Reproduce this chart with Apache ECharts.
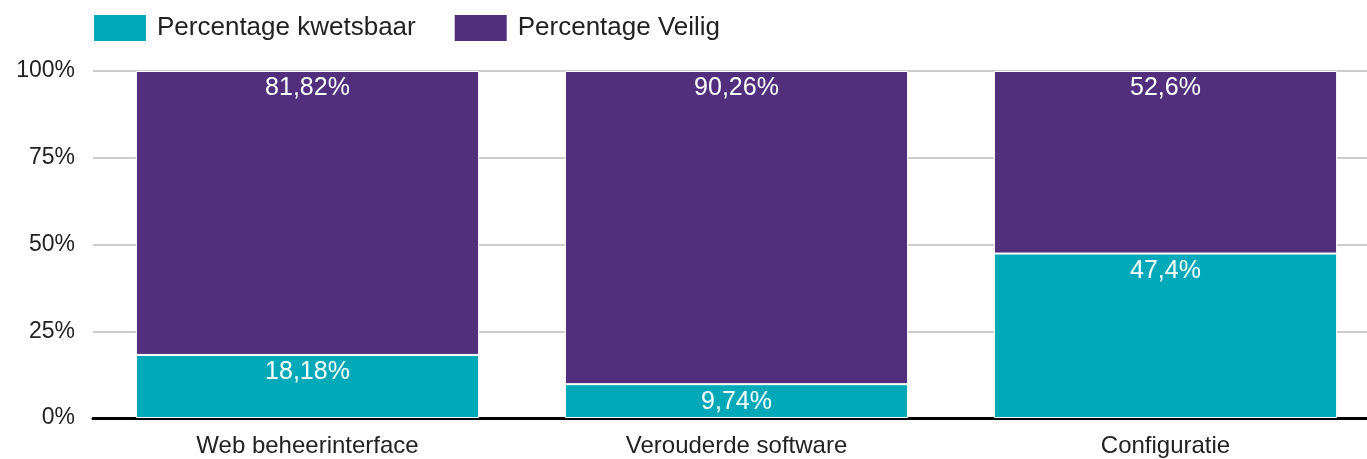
<!DOCTYPE html>
<html>
<head>
<meta charset="utf-8">
<script src="https://cdn.jsdelivr.net/npm/echarts@6/dist/echarts.min.js"></script>
<style>
  html, body { margin: 0; padding: 0; background: #fff; }
  #main { width: 1367px; height: 459px; }
</style>
</head>
<body>
<div id="main"></div>
<script>
// data
var categories = ['Web beheerinterface', 'Verouderde software', 'Configuratie'];
var kwetsbaar = [18.18, 9.74, 47.4];
var veilig = [81.82, 90.26, 52.6];
var yTicks = [0, 25, 50, 75, 100];

var chart = echarts.init(document.getElementById('main'));

function pct(p) {
  return String(p.value).replace('.', ',') + '%';
}

var labelStyle = {
  show: true,
  position: 'insideTop',
  distance: 5,
  color: '#fff',
  fontSize: 25,
  fontFamily: 'Liberation Sans',
  formatter: pct
};

chart.setOption({
  animation: false,
  textStyle: { fontFamily: 'Liberation Sans' },
  legend: {
    left: 92,
    top: 13,
    padding: 0,
    icon: 'rect',
    itemWidth: 54,
    itemHeight: 28,
    itemGap: 37,
    textStyle: { fontSize: 26, color: '#222', fontFamily: 'Liberation Sans', padding: [0, 0, 0, 5] },
    data: ['Percentage kwetsbaar', 'Percentage Veilig']
  },
  // plot runs a bit past the right edge, like the original
  grid: { left: 93, top: 71, width: 1287, height: 347, outerBoundsMode: 'none', containLabel: false },
  xAxis: {
    type: 'category',
    data: categories,
    axisTick: { show: false },
    axisLine: { lineStyle: { color: '#000', width: 3 } },
    axisLabel: { color: '#222', fontSize: 24, margin: 16 }
  },
  yAxis: {
    type: 'value',
    min: yTicks[0],
    max: yTicks[yTicks.length - 1],
    interval: 25,
    axisLabel: { color: '#222', fontSize: 23, margin: 18, formatter: '{value}%' },
    splitLine: { lineStyle: { color: '#ccc', width: 2 } },
    axisLine: { show: false },
    axisTick: { show: false }
  },
  series: [
    {
      name: 'Percentage kwetsbaar',
      type: 'bar',
      stack: 'total',
      barWidth: '80%',
      data: kwetsbaar,
      itemStyle: { color: '#00A9B7', borderColor: '#fff', borderWidth: 1 },
      label: labelStyle
    },
    {
      name: 'Percentage Veilig',
      type: 'bar',
      stack: 'total',
      barWidth: '80%',
      data: veilig,
      itemStyle: { color: '#512F7D', borderColor: '#fff', borderWidth: 1 },
      label: labelStyle
    }
  ]
});
</script>
</body>
</html>
